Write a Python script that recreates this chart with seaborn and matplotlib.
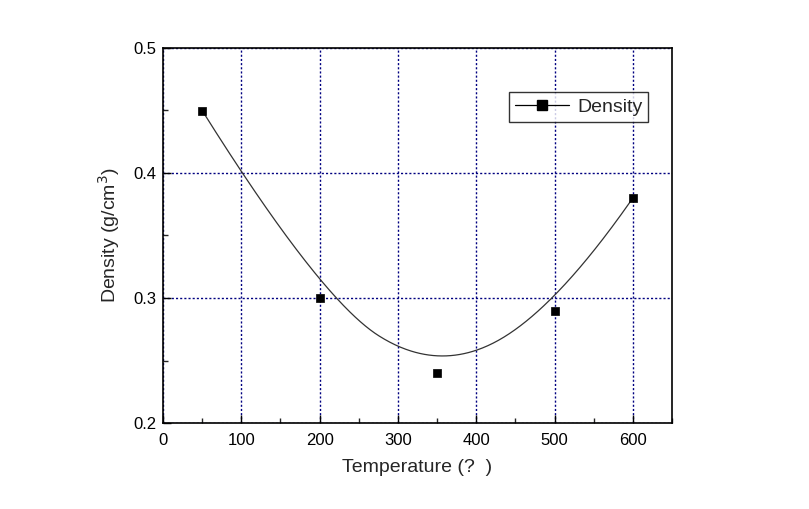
import numpy as np
import pandas as pd
import matplotlib
matplotlib.use("Agg")
import matplotlib.pyplot as plt
import seaborn as sns
from matplotlib.lines import Line2D
from matplotlib.ticker import MultipleLocator

# ---- data ----
temperature = [50, 200, 350, 500, 600]
density = [0.45, 0.30, 0.24, 0.29, 0.38]
x_ticks = [0, 100, 200, 300, 400, 500, 600]
y_ticks = [0.2, 0.3, 0.4, 0.5]
series_name = "Density"


def bspline(ctrl_x, ctrl_y, degree=2, n=400):
    """Clamped uniform B-spline using the data points as control points."""
    P = np.column_stack([ctrl_x, ctrl_y]).astype(float)
    m = len(P)
    inner = np.linspace(0, 1, m - degree + 1)
    knots = np.concatenate([[0] * degree, inner, [1] * degree])
    ts = np.linspace(0, 1, n)
    out = []
    for t in ts:
        k = np.searchsorted(knots, t, side="right") - 1
        k = min(k, m - 1)
        d = [P[j + k - degree].copy() for j in range(degree + 1)]
        for r in range(1, degree + 1):
            for j in range(degree, r - 1, -1):
                i = j + k - degree
                denom = knots[i + degree - r + 1] - knots[i]
                a = 0 if denom == 0 else (t - knots[i]) / denom
                d[j] = (1 - a) * d[j - 1] + a * d[j]
        out.append(d[degree])
    out = np.array(out)
    return out[:, 0], out[:, 1]


cx, cy = bspline(temperature, density)
curve = pd.DataFrame({"x": cx, "y": cy})
pts = pd.DataFrame({"Temperature": temperature, "Density": density})

sns.set_style("white")
plt.rcParams["font.family"] = ["Liberation Sans", "DejaVu Sans"]

fig = plt.figure(figsize=(8.09, 5.09), dpi=100)
ax = fig.add_axes([163 / 809, 86 / 509, 509 / 809, 375 / 509])

sns.lineplot(data=curve, x="x", y="y", sort=False, ax=ax, color="#333333",
             linewidth=0.9, estimator=None)
sns.scatterplot(data=pts, x="Temperature", y="Density", ax=ax, marker="s",
                color="black", s=40, edgecolor="black", linewidth=0.5, zorder=5)

ax.set_xlim(0, 650)
ax.set_ylim(0.2, 0.5)
ax.set_xticks(x_ticks)
ax.set_yticks(y_ticks)
ax.set_xticklabels([str(v) for v in x_ticks])
ax.set_yticklabels([f"{v:.1f}" for v in y_ticks])
ax.xaxis.set_minor_locator(MultipleLocator(50))
ax.yaxis.set_minor_locator(MultipleLocator(0.05))
ax.tick_params(which="major", direction="in", length=6, width=1, labelsize=12,
               colors="black", bottom=True, left=True, top=False, right=False)
ax.tick_params(which="minor", direction="in", length=3.5, width=1,
               bottom=True, left=True, top=False, right=False)
ax.tick_params(axis="x", pad=7)
ax.tick_params(axis="y", pad=5)

ax.grid(True, which="major", color="#000080", linestyle=(0, (1.5, 1.5)), linewidth=1)
ax.set_axisbelow(True)
for s in ax.spines.values():
    s.set_visible(True)
    s.set_color("black")
    s.set_linewidth(1.2)

ax.set_xlabel("Temperature (?  )", fontsize=14, labelpad=8)
ax.set_ylabel("Density (g/cm$^3$)", fontsize=14, labelpad=8)

handle = Line2D([], [], color="black", linewidth=0.9, marker="s", markersize=7,
                markerfacecolor="black")
leg = ax.legend([handle], [series_name], loc="upper right",
                bbox_to_anchor=(0.953, 0.882), frameon=True, fancybox=False,
                fontsize=14, handlelength=2.8, borderpad=0.3,
                handletextpad=0.4, borderaxespad=0)
leg.get_frame().set_edgecolor("black")
leg.get_frame().set_linewidth(1.0)

fig.savefig("out.png", dpi=100)
